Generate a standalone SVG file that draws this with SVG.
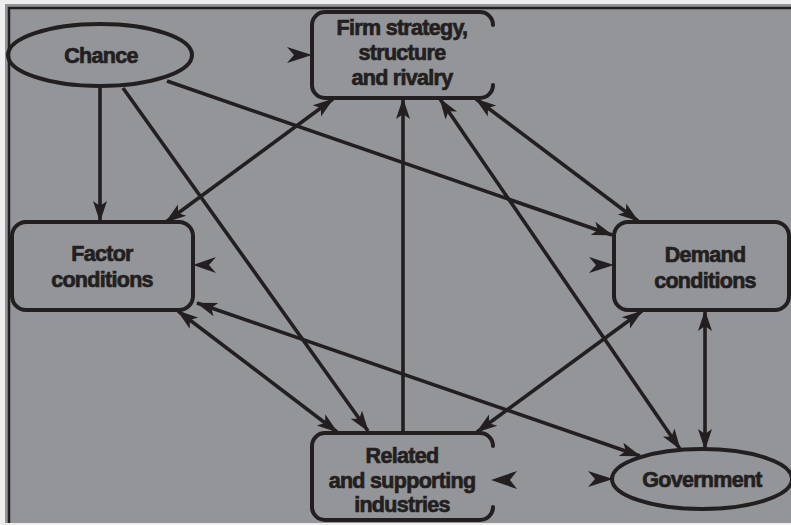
<svg xmlns="http://www.w3.org/2000/svg" width="791" height="525" viewBox="0 0 791 525">
  <defs>
    <marker id="ah" markerUnits="userSpaceOnUse" markerWidth="21" markerHeight="17" viewBox="0 0 21 17" refX="20" refY="8.5" orient="auto-start-reverse">
      <path d="M0,1.5 L21,8.5 L0,15.5 L5,8.5 z" fill="#231f20"/>
    </marker>
    <style>
      .frame { fill: #939598; }
      .shape { fill: none; stroke: #231f20; stroke-width: 4; stroke-linecap: round; stroke-linejoin: round; }
      .edge { fill: none; stroke: #231f20; stroke-width: 3.6; }
      .bi { marker-start: url(#ah); marker-end: url(#ah); }
      .uni { marker-end: url(#ah); }
      .stub { fill: #231f20; }
      text { font-family: "Liberation Sans", Arial, sans-serif; font-weight: bold; font-size: 21.5px; fill: #231f20; stroke: #231f20; stroke-width: 0.7; text-anchor: middle; letter-spacing: -0.7px; }
    </style>
  </defs>

  <rect x="0" y="0" width="791" height="525" fill="#eeeeee"/>
  <rect class="frame" x="5" y="4" width="786" height="519"/>
  <path d="M9,523 L9,8 L791,8" fill="none" stroke="#231f20" stroke-width="2.5"/>

  <g id="connectors">
    <path class="edge uni" d="M100,87 L100,221"/>
    <path class="edge uni" d="M123,88 L368,431"/>
    <path class="edge uni" d="M167,81 L612,235"/>
    <path class="edge bi" d="M333,99 L166,222"/>
    <path class="edge uni" d="M403,432 L403,99"/>
    <path class="edge bi" d="M440,99 L680,449"/>
    <path class="edge bi" d="M476,99 L638,221"/>
    <path class="edge bi" d="M178,311 L337,432"/>
    <path class="edge bi" d="M197,303 L640,456"/>
    <path class="edge bi" d="M477,432 L642,311"/>
    <path class="edge bi" d="M705,311 L705,449"/>
  </g>

  <g id="chance">
    <ellipse class="shape" cx="100" cy="55" rx="92" ry="31"/>
    <text x="101" y="63">Chance</text>
  </g>

  <g id="firm">
    <path class="shape" d="M493,25 A13,13 0 0 0 480,12 L325,12 A13,13 0 0 0 312,25 L312,85 A13,13 0 0 0 325,98 L480,98 A13,13 0 0 0 493,85"/>
    <polygon class="stub" points="312,55 287,47 294,55 287,63"/>
    <text x="402" y="35">Firm strategy,</text>
    <text x="402" y="60">structure</text>
    <text x="402" y="85">and rivalry</text>
  </g>

  <g id="factor">
    <rect class="shape" x="12" y="222" width="181" height="88" rx="14"/>
    <polygon class="stub" points="193,265 216,257 209,265 216,273"/>
    <text x="102" y="261">Factor</text>
    <text x="102" y="287">conditions</text>
  </g>

  <g id="demand">
    <rect class="shape" x="614" y="222" width="175" height="88" rx="14"/>
    <polygon class="stub" points="614,265 589,257 596,265 589,273"/>
    <text x="705" y="262">Demand</text>
    <text x="705" y="288">conditions</text>
  </g>

  <g id="related">
    <path class="shape" d="M493,446 A13,13 0 0 0 480,433 L325,433 A13,13 0 0 0 312,446 L312,507 A13,13 0 0 0 325,520 L480,520 A13,13 0 0 0 493,507"/>
    <polygon class="stub" points="491,480 517,471 510,480 517,489"/>
    <text x="402" y="463">Related</text>
    <text x="402" y="488">and supporting</text>
    <text x="402" y="512">industries</text>
  </g>

  <g id="government">
    <ellipse class="shape" cx="702" cy="479" rx="90" ry="30"/>
    <polygon class="stub" points="613,479 588,471 595,479 588,487"/>
    <text x="702" y="487">Government</text>
  </g>
</svg>
